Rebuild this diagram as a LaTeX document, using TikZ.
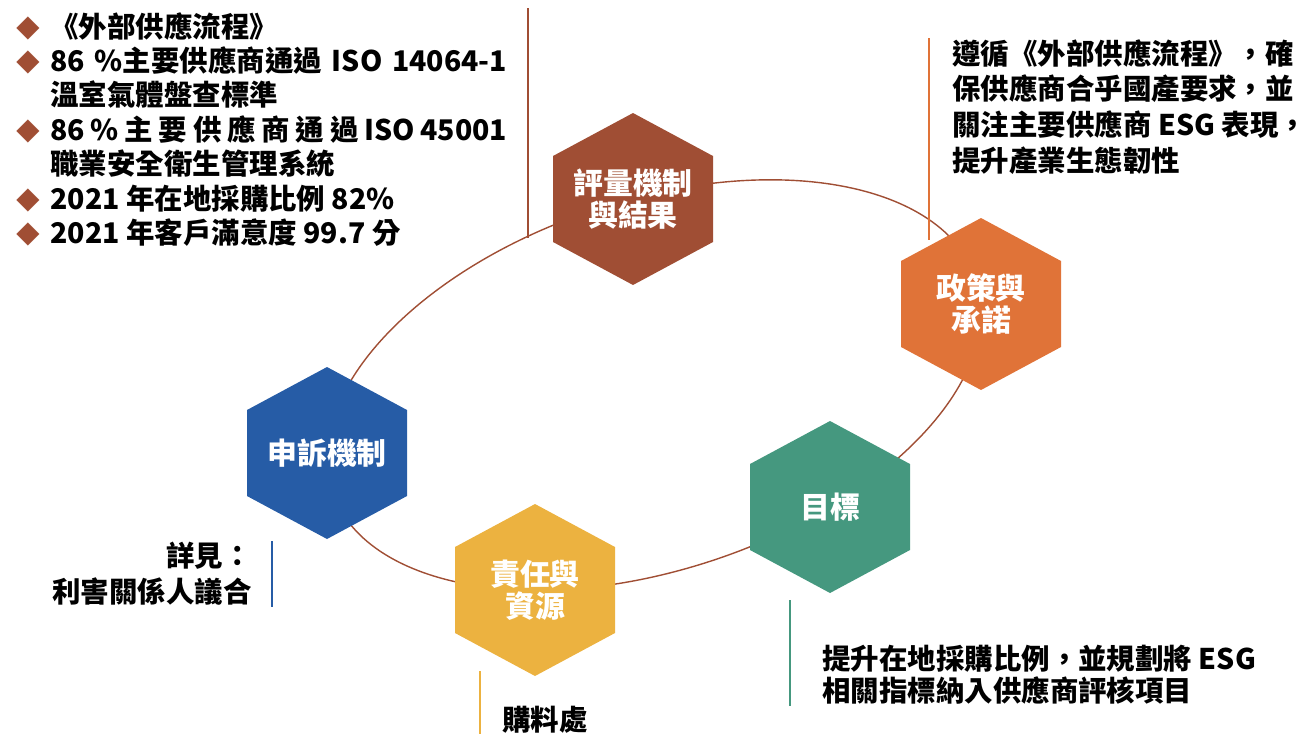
\documentclass[tikz,border=0pt]{standalone}
\usepackage{fontspec}
\setmainfont{Noto Sans CJK TC}
\usepackage{tikz}
\usetikzlibrary{positioning}
\definecolor{hexbrown}{RGB}{160,78,52}
\definecolor{hexorange}{RGB}{224,115,56}
\definecolor{hexgreen}{RGB}{69,152,127}
\definecolor{hexgold}{RGB}{236,178,64}
\definecolor{hexblue}{RGB}{38,92,166}
\newcommand{\bul}{\makebox[0.76cm][l]{\hspace*{0.08cm}\textcolor{hexbrown}{\fontsize{13.5}{12}\selectfont ◆}}}
\newcommand{\ind}{\hspace*{0.76cm}}

\begin{document}
\begin{tikzpicture}[line cap=round,line join=round,x=0.02cm,y=-0.02cm,
  hexlabel/.style={text=white,font=\fontsize{17}{18.2}\selectfont\bfseries,align=center,inner sep=0pt},
  note/.style={font=\bfseries,inner sep=0pt,align=left},
  ring/.style={draw=hexbrown,line width=0.8pt},
  tick/.style={line width=1.6pt,line cap=butt}]
\useasboundingbox (0,0) rectangle (1307,734);
% ring behind the hexagons
\draw [ring,rotate around={18.2:(654,385)}] (654,385) ellipse [x radius=339,y radius=185];
% hexagons
\foreach \cx/\cy/\col in {633/199/hexbrown,981/304/hexorange,830/507/hexgreen,535/590/hexgold,327/453/hexblue}
  \fill [\col] (\cx,\cy-86) -- (\cx+80,\cy-43) -- (\cx+80,\cy+43) -- (\cx,\cy+86) -- (\cx-80,\cy+43) -- (\cx-80,\cy-43) -- cycle;
\node [hexlabel] (evaluation) at (633,199) {評量機制\\與結果};
\node [hexlabel] (policy) at (981,304) {政策與\\承諾};
\node [hexlabel] (target) at (830,507) {目標};
\node [hexlabel] (duty) at (535,590) {責任與\\資源};
\node [hexlabel] (appeal) at (327,453) {申訴機制};
% side bars
\draw [tick,hexbrown] (528,8) -- (528,238);
\draw [tick,hexorange] (929,38) -- (929,240);
\draw [tick,hexblue] (272,541) -- (272,607);
\draw [tick,hexgold] (480,671) -- (480,734);
\draw [tick,hexgreen] (790,600) -- (790,706);
% texts
\node [note,anchor=north west,font=\fontsize{16.2}{19.6}\selectfont\bfseries] (results) at (12,12)
  {\bul《外部供應流程》\\
   \bul\makebox[9.14cm][s]{86 \%主要供應商通過 ISO 14064-1}\\
   \ind 溫室氣體盤查標準\\
   \bul\makebox[9.14cm][s]{86 \% 主 要 供 應 商 通 過 ISO 45001}\\
   \ind 職業安全衛生管理系統\\
   \bul 2021 年在地採購比例 82\%\\
   \bul 2021 年客戶滿意度 99.7 分};
\node [note,anchor=north west,font=\fontsize{16.2}{20.4}\selectfont\bfseries] (policytext) at (952,39)
  {遵循《外部供應流程》，確\\
   保供應商合乎國產要求，並\\
   關注主要供應商 ESG 表現，\\
   提升產業生態韌性};
\node [note,anchor=north west,font=\fontsize{16.2}{18.1}\selectfont\bfseries] (targettext) at (822,645)
  {提升在地採購比例，並規劃將 ESG\\
   相關指標納入供應商評核項目};
\node [note,anchor=north east,align=right,font=\fontsize{16.2}{20.4}\selectfont\bfseries] (appealtext) at (252,542)
  {詳見：\\利害關係人議合};
\node [note,font=\fontsize{16.2}{19.6}\selectfont\bfseries] (dutytext) at (545,720) {購料處};
\end{tikzpicture}
\end{document}
